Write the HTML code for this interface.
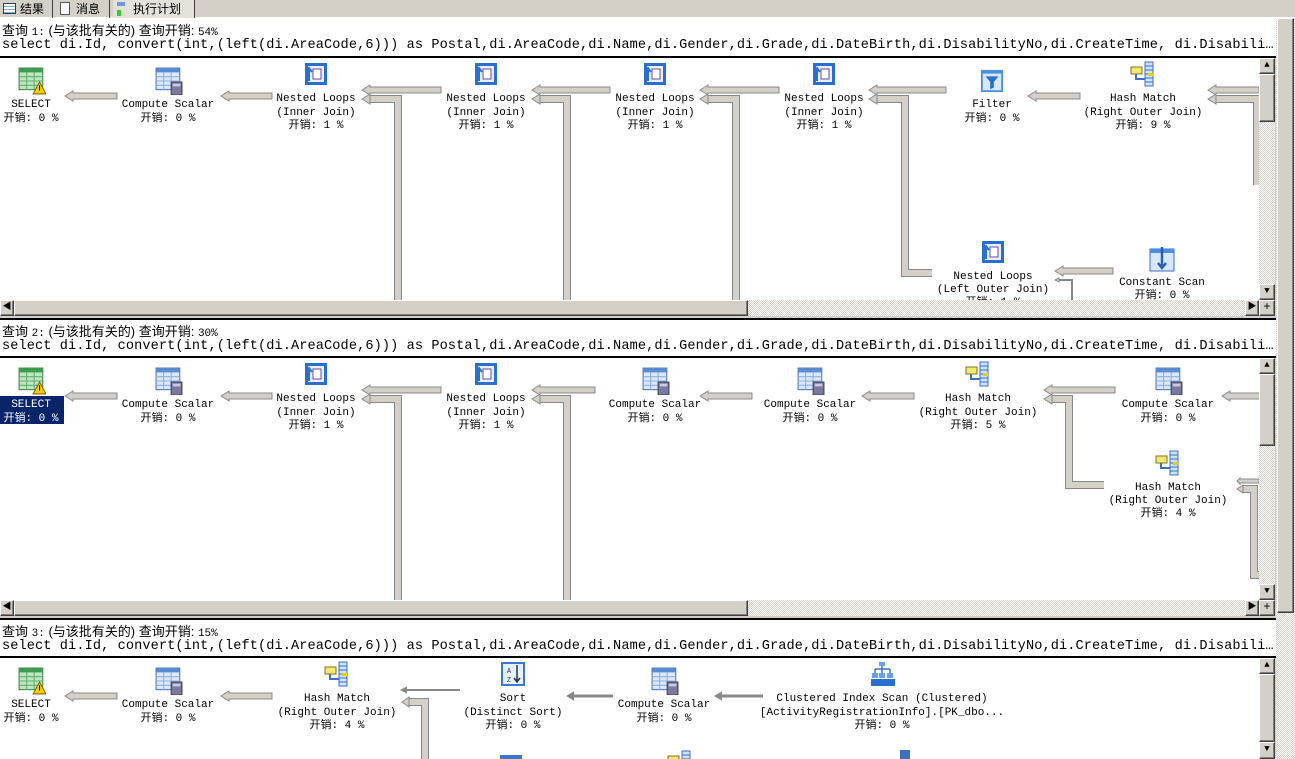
<!DOCTYPE html>
<html><head><meta charset="utf-8">
<style>
*{margin:0;padding:0;box-sizing:border-box}
body{width:1295px;height:759px;overflow:hidden;background:#d4d0c8;position:relative;font-family:"Liberation Mono","Noto Sans CJK SC",monospace}
.abs{position:absolute}
.dither{background-color:#fff;background-image:repeating-conic-gradient(#d4d0c8 0 25%,#fff 0 50%);background-size:2px 2px}
.btn{position:absolute;background:#d4d0c8;border:1px solid;border-color:#fff #404040 #404040 #fff;box-shadow:inset -1px -1px #808080;font-size:9px;line-height:13px;text-align:center;color:#000}
.hdr{position:absolute;left:0;width:1276px;background:#fff;border-bottom:2px solid #000}
.hdr .l1{position:absolute;left:2px;top:2px;font:13px "Liberation Sans","Noto Sans CJK SC",sans-serif;white-space:nowrap}
.hdr .l1 span{font:11px "Liberation Mono",monospace}
.hdr .l2{position:absolute;left:2px;top:20px;font:13.6px "Liberation Mono",monospace;white-space:nowrap;letter-spacing:0.1px}
.pane{position:absolute;left:0;width:1259px;background:#fff;overflow:hidden}
svg text{font-family:"Liberation Mono","Noto Sans CJK SC",monospace;font-size:11px;text-anchor:middle;fill:#000}
.tab{position:absolute;top:0;height:18px;font:12px "Liberation Sans","Noto Sans CJK SC",sans-serif;line-height:18px;border-right:1px solid #404040;padding-left:20px}
</style></head><body>
<svg width="0" height="0" style="position:absolute">
<defs>
<symbol id="sel" viewBox="0 0 26 26"><rect x="1" y="1" width="22" height="20" fill="#bfe6c0" stroke="#3a8a4a"/><rect x="1" y="1" width="22" height="4" fill="#3c9b53"/><path d="M1 9h22M1 13h22M1 17h22M8 5v16M15 5v16" stroke="#62b070"/><path d="M20 14l6 11h-12z" fill="#f4d000" stroke="#886600"/><rect x="19.5" y="17" width="1" height="5" fill="#000"/></symbol>
<symbol id="cs" viewBox="0 0 26 26"><rect x="1" y="1" width="22" height="20" fill="#dbe8f8" stroke="#4a78b8"/><rect x="1" y="1" width="22" height="4" fill="#5a8ad0"/><path d="M1 9h22M1 13h22M1 17h22M8 5v16M15 5v16" stroke="#8fb0dd"/><rect x="15" y="14" width="10" height="12" fill="#7a7aa0" stroke="#404060"/><rect x="16.5" y="15.5" width="7" height="2.5" fill="#ccd"/></symbol>
<symbol id="nl" viewBox="0 0 26 26"><rect x="2" y="2" width="22" height="22" fill="#2a6fd0"/><rect x="5" y="5" width="16" height="16" fill="#e8f0ff"/><rect x="10" y="8" width="8" height="10" fill="#fff" stroke="#6a4aa0"/><path d="M6 20V9M3 11l3-4 3 4" stroke="#2a6fd0" stroke-width="2" fill="none"/></symbol>
<symbol id="hm" viewBox="0 0 26 26"><rect x="15" y="1" width="8" height="24" fill="#cfe2fa" stroke="#3a70c0"/><path d="M15 5h8M15 9h8M15 13h8M15 17h8M15 21h8" stroke="#3a70c0"/><rect x="1" y="6" width="11" height="7" fill="#f2ea70" stroke="#807020"/><path d="M6 13v5h9" stroke="#3a70c0" stroke-width="2" fill="none"/><rect x="18" y="12" width="5" height="3" fill="#e6d200"/></symbol>
<symbol id="flt" viewBox="0 0 26 26"><rect x="1" y="1" width="24" height="24" fill="#4a8ee0"/><rect x="3" y="5" width="20" height="18" fill="#d8e8fb"/><path d="M6 8h14l-5 6v6l-4 2v-8z" fill="#2a6fd0"/></symbol>
<symbol id="cst" viewBox="0 0 26 26"><rect x="1" y="3" width="24" height="22" fill="#d8e8fb" stroke="#3a70c0"/><rect x="1" y="3" width="24" height="4" fill="#4a8ee0"/><path d="M13 1v20M9 17l4 5 4-5" stroke="#2a5fb0" stroke-width="2.5" fill="none"/></symbol>
<symbol id="srt" viewBox="0 0 26 26"><rect x="1" y="1" width="24" height="24" fill="#3a78d0"/><rect x="3" y="3" width="20" height="20" fill="#e8f0fb"/><text x="9" y="12" style="font-size:7px;fill:#235">A</text><text x="9" y="21" style="font-size:7px;fill:#235">Z</text><path d="M17 4v16M14 17l3 4 3-4" stroke="#234" stroke-width="1.5" fill="none"/></symbol>
<symbol id="cis" viewBox="0 0 26 26"><path d="M12 2v6M5 8h15M5 8v5M12 8v5M20 8v5" stroke="#3a70c0" stroke-width="1.5" fill="none"/><rect x="9" y="1" width="6" height="4" fill="#6aa0e8"/><rect x="2" y="12" width="6" height="5" fill="#6aa0e8"/><rect x="9" y="12" width="6" height="5" fill="#6aa0e8"/><rect x="17" y="12" width="6" height="5" fill="#6aa0e8"/><path d="M1 18h24v7H1z" fill="#2a6fd0"/></symbol>
</defs></svg>

<!-- tabs -->
<div class="abs" style="left:0;top:0;width:1295px;height:18px;background:#d4d0c8;border-bottom:1px solid #fff"></div>
<div class="tab" style="left:0;width:53px"><span class="abs" style="left:3px;top:3px;width:13px;height:11px;border:1px solid #246;background:repeating-linear-gradient(#fff 0 2px,#8ab 2px 3px)"></span>结果</div>
<div class="tab" style="left:56px;width:54px"><span class="abs" style="left:4px;top:2px;width:10px;height:13px;border:1px solid #555;background:#fff"></span>消息</div>
<div class="tab" style="left:113px;width:82px;background:#e4e1da"><span class="abs" style="left:4px;top:2px;width:8px;height:4px;background:#6a9ad8"></span><span class="abs" style="left:4px;top:10px;width:4px;height:6px;background:#3c3"></span>执行计划</div>

<!-- Pane 1 -->
<div class="hdr" style="top:18px;height:40px"><div class="l1">查询 <span>1:</span> (与该批有关的) 查询开销: <span>54%</span></div><div class="l2">select di.Id, convert(int,(left(di.AreaCode,6))) as Postal,di.AreaCode,di.Name,di.Gender,di.Grade,di.DateBirth,di.DisabilityNo,di.CreateTime, di.Disabili…</div></div>
<div class="pane" style="top:58px;height:242px">
<svg width="1259" height="242" viewBox="0 58 1259 242">
<g fill="#d4d0c8" stroke="#888" stroke-width="1">
<path d="M65 96l8-5v2h44v6h-44v2z"/><path d="M221 96l8-5v2h43v6h-43v2z"/>
<path d="M362 90l8-5v2h71v6h-71v2z"/><path d="M532 90l8-5v2h70v6h-70v2z"/><path d="M700 90l8-5v2h71v6h-71v2z"/><path d="M869 90l8-5v2h69v6h-69v2z"/>
<path d="M1028 96l8-5v2h44v6h-44v2z"/><path d="M1208 90l8-5v2h43v6h-43v2z"/>
<path d="M1055 271l8-5v2h50v6h-50v2z"/>
</g>
<g fill="none" stroke-linejoin="miter">
<path d="M368 99H398V300" stroke="#888" stroke-width="8"/><path d="M368 99H398V300" stroke="#d4d0c8" stroke-width="6"/>
<path d="M538 99H567V300" stroke="#888" stroke-width="8"/><path d="M538 99H567V300" stroke="#d4d0c8" stroke-width="6"/>
<path d="M706 99H736V300" stroke="#888" stroke-width="8"/><path d="M706 99H736V300" stroke="#d4d0c8" stroke-width="6"/>
<path d="M875 99H905V273H932" stroke="#888" stroke-width="8"/><path d="M875 99H905V273H932" stroke="#d4d0c8" stroke-width="6"/>
<path d="M1214 99H1257V185" stroke="#888" stroke-width="8"/><path d="M1214 99H1257V185" stroke="#d4d0c8" stroke-width="6"/>
<path d="M1058 280H1072V300" stroke="#888" stroke-width="2"/>
</g>
<g fill="#d4d0c8" stroke="#888"><path d="M362 99l8-5v10z"/><path d="M532 99l8-5v10z"/><path d="M700 99l8-5v10z"/><path d="M869 99l8-5v10z"/><path d="M1208 99l8-5v10z"/><path d="M1055 280l4-2v4z"/></g>
<use href="#sel" x="18" y="67" width="28" height="28"/><text x="31" y="107">SELECT</text><text x="31" y="121">开销: 0 %</text>
<use href="#cs" x="155" y="67" width="28" height="28"/><text x="168" y="107">Compute Scalar</text><text x="168" y="121">开销: 0 %</text>
<use href="#nl" x="303" y="61" width="26" height="26"/><text x="316" y="101">Nested Loops</text><text x="316" y="115">(Inner Join)</text><text x="316" y="128">开销: 1 %</text>
<use href="#nl" x="473" y="61" width="26" height="26"/><text x="486" y="101">Nested Loops</text><text x="486" y="115">(Inner Join)</text><text x="486" y="128">开销: 1 %</text>
<use href="#nl" x="642" y="61" width="26" height="26"/><text x="655" y="101">Nested Loops</text><text x="655" y="115">(Inner Join)</text><text x="655" y="128">开销: 1 %</text>
<use href="#nl" x="811" y="61" width="26" height="26"/><text x="824" y="101">Nested Loops</text><text x="824" y="115">(Inner Join)</text><text x="824" y="128">开销: 1 %</text>
<use href="#flt" x="980" y="69" width="24" height="24"/><text x="992" y="107">Filter</text><text x="992" y="121">开销: 0 %</text>
<use href="#hm" x="1130" y="61" width="26" height="26"/><text x="1143" y="101">Hash Match</text><text x="1143" y="115">(Right Outer Join)</text><text x="1143" y="128">开销: 9 %</text>
<use href="#nl" x="980" y="239" width="26" height="26"/><text x="993" y="279">Nested Loops</text><text x="993" y="292">(Left Outer Join)</text><text x="993" y="305">开销: 1 %</text>
<use href="#cst" x="1149" y="246" width="26" height="26"/><text x="1162" y="285">Constant Scan</text><text x="1162" y="298">开销: 0 %</text>
</svg></div>
<div class="abs dither" style="left:1259px;top:58px;width:16px;height:242px"></div>
<div class="btn" style="left:1259px;top:58px;width:16px;height:16px">▲</div>
<div class="btn" style="left:1259px;top:74px;width:16px;height:48px"></div>
<div class="btn" style="left:1259px;top:284px;width:16px;height:16px">▼</div>
<div class="abs dither" style="left:0;top:300px;width:1259px;height:16px"></div>
<div class="btn" style="left:0;top:300px;width:14px;height:16px">◀</div>
<div class="btn" style="left:14px;top:300px;width:734px;height:16px"></div>
<div class="btn" style="left:1245px;top:300px;width:14px;height:16px">▶</div>
<div class="btn" style="left:1259px;top:300px;width:16px;height:16px;font-size:12px">+</div>

<!-- Pane 2 -->
<div class="hdr" style="top:318px;height:40px;border-top:2px solid #000"><div class="l1" style="top:1px">查询 <span>2:</span> (与该批有关的) 查询开销: <span>30%</span></div><div class="l2" style="top:19px">select di.Id, convert(int,(left(di.AreaCode,6))) as Postal,di.AreaCode,di.Name,di.Gender,di.Grade,di.DateBirth,di.DisabilityNo,di.CreateTime, di.Disabili…</div></div>
<div class="pane" style="top:358px;height:242px">
<svg width="1259" height="242" viewBox="0 358 1259 242">
<g fill="#d4d0c8" stroke="#888">
<path d="M65 396l8-5v2h44v6h-44v2z"/><path d="M221 396l8-5v2h43v6h-43v2z"/>
<path d="M362 390l8-5v2h71v6h-71v2z"/><path d="M532 390l8-5v2h55v6h-55v2z"/>
<path d="M700 396l8-5v2h44v6h-44v2z"/><path d="M862 396l8-5v2h44v6h-44v2z"/>
<path d="M1044 390l8-5v2h63v6h-63v2z"/><path d="M1222 396l8-5v2h37v6h-37v2z"/>
<path d="M1237 481l3-3v1h19v4h-19v1z"/>
</g>
<g fill="none">
<path d="M368 399H398V600" stroke="#888" stroke-width="8"/><path d="M368 399H398V600" stroke="#d4d0c8" stroke-width="6"/>
<path d="M538 399H567V600" stroke="#888" stroke-width="8"/><path d="M538 399H567V600" stroke="#d4d0c8" stroke-width="6"/>
<path d="M1050 399H1069V485H1104" stroke="#888" stroke-width="8"/><path d="M1050 399H1069V485H1104" stroke="#d4d0c8" stroke-width="6"/>
<path d="M1242 489H1254V575H1259" stroke="#888" stroke-width="8"/><path d="M1242 489H1254V575H1259" stroke="#d4d0c8" stroke-width="6"/>
</g>
<g fill="#d4d0c8" stroke="#888"><path d="M362 399l8-5v10z"/><path d="M532 399l8-5v10z"/><path d="M1044 399l8-5v10z"/><path d="M1237 489l6-4v8z"/></g>
<rect x="0" y="396" width="64" height="28" fill="#0a246a"/>
<use href="#sel" x="18" y="367" width="28" height="28"/><text x="31" y="407" style="fill:#fff">SELECT</text><text x="31" y="421" style="fill:#fff">开销: 0 %</text>
<use href="#cs" x="155" y="367" width="28" height="28"/><text x="168" y="407">Compute Scalar</text><text x="168" y="421">开销: 0 %</text>
<use href="#nl" x="303" y="361" width="26" height="26"/><text x="316" y="401">Nested Loops</text><text x="316" y="415">(Inner Join)</text><text x="316" y="428">开销: 1 %</text>
<use href="#nl" x="473" y="361" width="26" height="26"/><text x="486" y="401">Nested Loops</text><text x="486" y="415">(Inner Join)</text><text x="486" y="428">开销: 1 %</text>
<use href="#cs" x="642" y="367" width="28" height="28"/><text x="655" y="407">Compute Scalar</text><text x="655" y="421">开销: 0 %</text>
<use href="#cs" x="797" y="367" width="28" height="28"/><text x="810" y="407">Compute Scalar</text><text x="810" y="421">开销: 0 %</text>
<use href="#hm" x="965" y="361" width="26" height="26"/><text x="978" y="401">Hash Match</text><text x="978" y="415">(Right Outer Join)</text><text x="978" y="428">开销: 5 %</text>
<use href="#cs" x="1155" y="367" width="28" height="28"/><text x="1168" y="407">Compute Scalar</text><text x="1168" y="421">开销: 0 %</text>
<use href="#hm" x="1155" y="450" width="26" height="26"/><text x="1168" y="490">Hash Match</text><text x="1168" y="503">(Right Outer Join)</text><text x="1168" y="516">开销: 4 %</text>
</svg></div>
<div class="abs dither" style="left:1259px;top:358px;width:16px;height:242px"></div>
<div class="btn" style="left:1259px;top:358px;width:16px;height:16px">▲</div>
<div class="btn" style="left:1259px;top:374px;width:16px;height:72px"></div>
<div class="btn" style="left:1259px;top:584px;width:16px;height:16px">▼</div>
<div class="abs dither" style="left:0;top:600px;width:1259px;height:16px"></div>
<div class="btn" style="left:0;top:600px;width:14px;height:16px">◀</div>
<div class="btn" style="left:14px;top:600px;width:734px;height:16px"></div>
<div class="btn" style="left:1245px;top:600px;width:14px;height:16px">▶</div>
<div class="btn" style="left:1259px;top:600px;width:16px;height:16px;font-size:12px">+</div>

<!-- Pane 3 -->
<div class="hdr" style="top:618px;height:40px;border-top:2px solid #000"><div class="l1" style="top:1px">查询 <span>3:</span> (与该批有关的) 查询开销: <span>15%</span></div><div class="l2" style="top:19px">select di.Id, convert(int,(left(di.AreaCode,6))) as Postal,di.AreaCode,di.Name,di.Gender,di.Grade,di.DateBirth,di.DisabilityNo,di.CreateTime, di.Disabili…</div></div>
<div class="pane" style="top:658px;height:101px">
<svg width="1259" height="101" viewBox="0 658 1259 101">
<g fill="#d4d0c8" stroke="#888">
<path d="M65 696l8-5v2h44v6h-44v2z"/><path d="M221 696l8-5v2h43v6h-43v2z"/>
</g>
<path d="M408 702H425V759" fill="none" stroke="#888" stroke-width="8"/><path d="M408 702H425V759" fill="none" stroke="#d4d0c8" stroke-width="6"/>
<path d="M402 702l7-5v10z" fill="#d4d0c8" stroke="#888"/>
<g stroke="#888" stroke-width="2" fill="#888">
<path d="M404 690H460"/><path d="M402 690l4-2v4z"/>
<path d="M570 696H613" stroke-width="3"/><path d="M568 696l5-3v6z"/>
<path d="M718 696H763" stroke-width="3"/><path d="M716 696l5-3v6z"/>
</g>
<use href="#sel" x="18" y="667" width="28" height="28"/><text x="31" y="707">SELECT</text><text x="31" y="721">开销: 0 %</text>
<use href="#cs" x="155" y="667" width="28" height="28"/><text x="168" y="707">Compute Scalar</text><text x="168" y="721">开销: 0 %</text>
<use href="#hm" x="324" y="661" width="26" height="26"/><text x="337" y="701">Hash Match</text><text x="337" y="715">(Right Outer Join)</text><text x="337" y="728">开销: 4 %</text>
<use href="#srt" x="500" y="661" width="26" height="26"/><text x="513" y="701">Sort</text><text x="513" y="715">(Distinct Sort)</text><text x="513" y="728">开销: 0 %</text>
<use href="#cs" x="651" y="667" width="28" height="28"/><text x="664" y="707">Compute Scalar</text><text x="664" y="721">开销: 0 %</text>
<use href="#cis" x="870" y="661" width="26" height="26"/><text x="882" y="701">Clustered Index Scan (Clustered)</text><text x="882" y="715">[ActivityRegistrationInfo].[PK_dbo...</text><text x="882" y="728">开销: 0 %</text>
<rect x="500" y="755" width="22" height="4" fill="#3a78d0"/><use href="#hm" x="667" y="750" width="26" height="26"/><rect x="900" y="750" width="10" height="9" fill="#3a70c0"/>
</svg></div>
<div class="abs" style="left:1259px;top:658px;width:16px;height:101px;background:#d4d0c8"></div>
<div class="btn" style="left:1259px;top:658px;width:16px;height:16px">▲</div>
<div class="btn" style="left:1259px;top:674px;width:16px;height:68px"></div>
<div class="btn" style="left:1259px;top:742px;width:16px;height:17px">▼</div>

<!-- outer scrollbar -->
<div class="abs dither" style="left:1276px;top:18px;width:19px;height:741px"></div>
<div class="btn" style="left:1277px;top:18px;width:17px;height:595px"></div>
</body></html>
